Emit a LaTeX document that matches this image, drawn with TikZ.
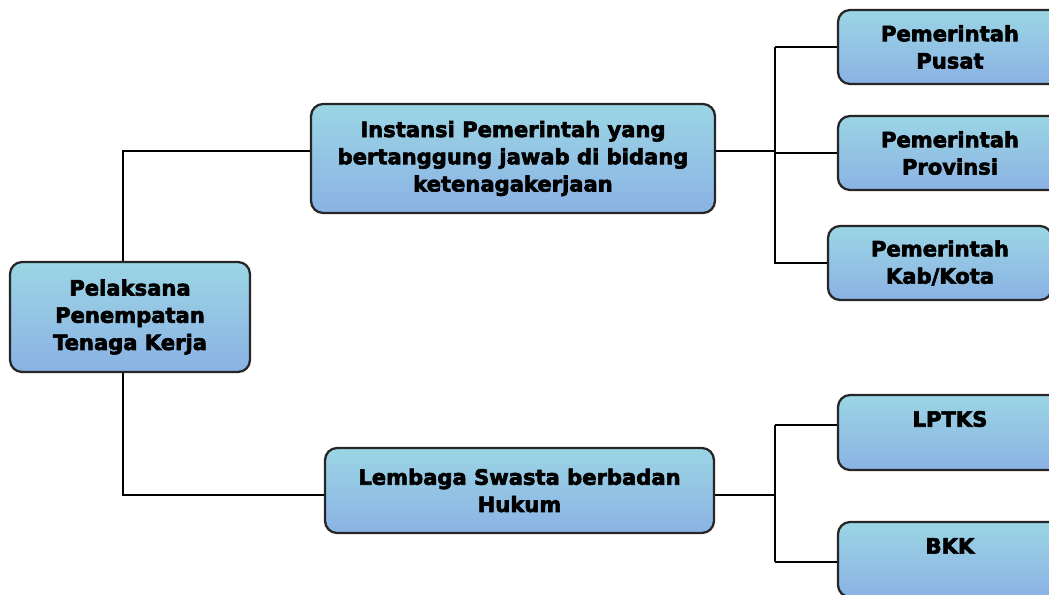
\documentclass[tikz,border=0pt]{standalone}
\usepackage{fontspec}
\usepackage{xcolor}
\usepackage{tikz}
\setmainfont{DejaVu Sans}
\newfontfamily\heavyfont[FakeBold=3]{DejaVu Sans}

\definecolor{boxtop}{RGB}{155,213,228}
\definecolor{boxbot}{RGB}{138,178,228}

\tikzset{
  orgbox/.style={rectangle, draw=black!85, line width=1.3pt, rounded corners=0.24cm,
    top color=boxtop, bottom color=boxbot, align=center, inner sep=0pt,
    font=\heavyfont\bfseries\fontsize{12}{15.5}\selectfont},
  link/.style={draw=black, line width=1.1pt}
}

\begin{document}
\begin{tikzpicture}[x=0.02cm, y=-0.02cm]
        \useasboundingbox (0,0) rectangle (1049,595);
        \clip (0,0) rectangle (1049,595);

        % Define the nodes
        \node[orgbox, minimum width=4.8cm, minimum height=2.2cm] (root) at (130, 317) {Pelaksana\\Penempatan\\Tenaga Kerja};
        \node[orgbox, minimum width=8.08cm, minimum height=2.18cm] (inst) at (513, 158.5) {Instansi Pemerintah yang\\bertanggung jawab di bidang\\ketenagakerjaan};
        \node[orgbox, minimum width=7.78cm, minimum height=1.7cm] (swasta) at (519.5, 490.5) {Lembaga Swasta berbadan\\Hukum};

        \node[orgbox, minimum width=4.48cm, minimum height=1.48cm] (pusat) at (950, 47) {Pemerintah\\Pusat};
        \node[orgbox, minimum width=4.48cm, minimum height=1.48cm] (prov) at (950, 153) {Pemerintah\\Provinsi};
        \node[orgbox, minimum width=4.48cm, minimum height=1.48cm] (kab) at (940, 263) {Pemerintah\\Kab/Kota};

        \node[orgbox, minimum width=4.48cm, minimum height=1.5cm] (lptks) at (950, 432.5) {LPTKS\\\mbox{}};
        \node[orgbox, minimum width=4.48cm, minimum height=1.5cm] (bkk) at (950, 559.5) {BKK\\\mbox{}};

        % Junction points
        \coordinate (jtop) at (775, 151);
        \coordinate (jbot) at (775, 495);
        \coordinate (jlptks) at (775, 425);
        \coordinate (jbkk) at (775, 562);

        % Draw the lines
        \draw[link] ([xshift=-0.14cm]root.north) |- ([yshift=0.15cm]inst.west);
        \draw[link] ([xshift=-0.14cm]root.south) |- ([yshift=-0.09cm]swasta.west);

        \draw[link] ([yshift=0.15cm]inst.east) -- (jtop);
        \draw[link] (jtop |- pusat.west) |- (kab.west);
        \draw[link] (jtop |- pusat.west) -- (pusat.west);
        \draw[link] (jtop |- prov.west) -- (prov.west);

        \draw[link] ([yshift=-0.09cm]swasta.east) -- (jbot);
        \draw[link] (jlptks) -- (jbkk);
        \draw[link] (jlptks) -- (jlptks -| lptks.west);
        \draw[link] (jbkk) -- (jbkk -| bkk.west);
\end{tikzpicture}
\end{document}
